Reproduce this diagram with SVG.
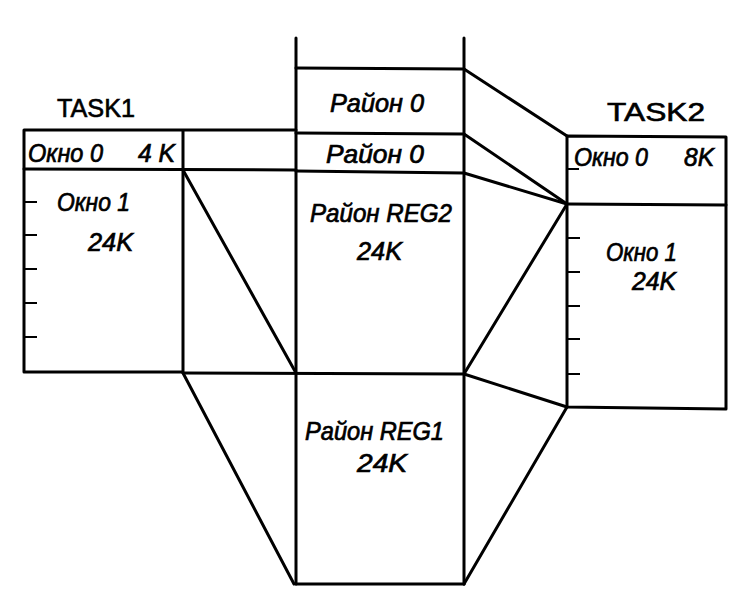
<svg xmlns="http://www.w3.org/2000/svg" width="748" height="599" viewBox="0 0 748 599">
<style>
.ln{stroke:#000;stroke-width:3;fill:none;stroke-linejoin:round;stroke-linecap:round}
.tk{stroke:#000;stroke-width:2;fill:none}
.t{font-family:"Liberation Sans",Arial,sans-serif;font-style:italic;font-size:25px;fill:#000;stroke:#000;stroke-width:0.7}
.h{font-family:"Liberation Sans",Arial,sans-serif;font-size:25px;fill:#000;stroke:#000;stroke-width:0.6}
</style>
<rect width="748" height="599" fill="#fff"/>
<g id="task1">
<text class="h" x="57" y="117" textLength="78" lengthAdjust="spacingAndGlyphs">TASK1</text>
<polyline class="ln" points="296,130 24,130 24,372 183,372 183,130"/>
<line class="ln" x1="24" y1="169" x2="296" y2="170"/>
<path class="tk" d="M24,202h13M24,235h13M24,269h13M24,303h13M24,337h13"/>
<text class="t" x="28" y="162" font-size="23" textLength="75" lengthAdjust="spacingAndGlyphs">Окно 0</text>
<text class="t" x="138" y="162" font-size="23" textLength="37" lengthAdjust="spacingAndGlyphs">4 K</text>
<text class="t" x="57" y="211" textLength="73" lengthAdjust="spacingAndGlyphs">Окно 1</text>
<text class="t" x="88" y="251" textLength="45" lengthAdjust="spacingAndGlyphs">24K</text>
</g>
<g id="middle">
<line class="ln" x1="296" y1="38" x2="296" y2="584"/>
<line class="ln" x1="464" y1="38" x2="464" y2="584"/>
<line class="ln" x1="296" y1="68" x2="464" y2="69"/>
<line class="ln" x1="296" y1="133" x2="464" y2="134"/>
<line class="ln" x1="296" y1="171" x2="464" y2="173"/>
<line class="ln" x1="183" y1="373" x2="464" y2="374"/>
<line class="ln" x1="296" y1="584" x2="464" y2="584"/>
<text class="t" x="330" y="112" textLength="94" lengthAdjust="spacingAndGlyphs">Район 0</text>
<text class="t" x="326" y="163" textLength="98" lengthAdjust="spacingAndGlyphs">Район 0</text>
<text class="t" x="310" y="222" textLength="142" lengthAdjust="spacingAndGlyphs">Район REG2</text>
<text class="t" x="357" y="260" textLength="45" lengthAdjust="spacingAndGlyphs">24K</text>
<text class="t" x="305" y="440" textLength="139" lengthAdjust="spacingAndGlyphs">Район REG1</text>
<text class="t" x="357" y="472" textLength="50" lengthAdjust="spacingAndGlyphs">24K</text>
</g>
<g id="task2">
<text class="h" x="607" y="121" textLength="98" lengthAdjust="spacingAndGlyphs">TASK2</text>
<polygon class="ln" points="567,136 726,137 726,409 567,407"/>
<line class="ln" x1="567" y1="204" x2="726" y2="205"/>
<path class="tk" d="M567,169h12M567,238h13M567,272h13M567,306h13M567,339h13M567,374h13"/>
<text class="t" x="574" y="166" font-size="23" textLength="74" lengthAdjust="spacingAndGlyphs">Окно 0</text>
<text class="t" x="684" y="166" font-size="23" textLength="30" lengthAdjust="spacingAndGlyphs">8K</text>
<text class="t" x="606" y="261" textLength="71" lengthAdjust="spacingAndGlyphs">Окно 1</text>
<text class="t" x="632" y="290" textLength="44" lengthAdjust="spacingAndGlyphs">24K</text>
</g>
<g id="connectors">
<line class="ln" x1="183" y1="170" x2="296" y2="373"/>
<line class="ln" x1="183" y1="373" x2="294" y2="584"/>
<line class="ln" x1="464" y1="69" x2="567" y2="136"/>
<line class="ln" x1="464" y1="134" x2="567" y2="204"/>
<line class="ln" x1="464" y1="173" x2="567" y2="204"/>
<line class="ln" x1="464" y1="374" x2="567" y2="204"/>
<line class="ln" x1="464" y1="374" x2="567" y2="407"/>
<line class="ln" x1="464" y1="584" x2="567" y2="407"/>
</g>
</svg>
